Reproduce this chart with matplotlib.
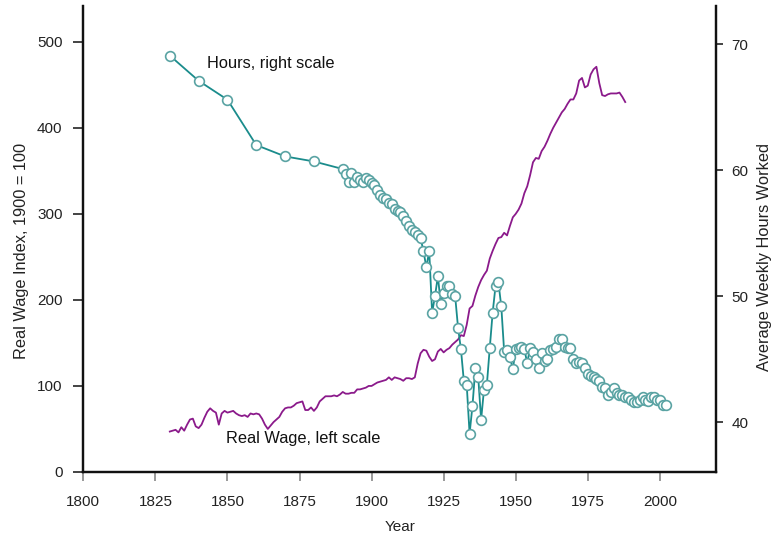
import numpy as np
import matplotlib
matplotlib.use("Agg")
import matplotlib.pyplot as plt

plt.rcParams['font.family'] = ['Liberation Sans', 'DejaVu Sans']

# real wage index (1900 = 100), annual 1830-1988
wage_years = np.arange(1830, 1989)
wage = [
    47, 48, 49, 46, 52, 48, 55, 61, 62, 53,
    51, 55, 63, 70, 74, 71, 69, 55, 68, 71,
    69, 70, 71, 68, 66, 65, 66, 64, 68, 67,
    68, 67, 62, 55, 50, 54, 58, 61, 64, 70,
    74, 75, 75, 77, 80, 81, 82, 72, 72, 75,
    71, 75, 82, 85, 88, 88, 88, 89, 88, 90,
    93, 91, 91, 92, 92, 96, 96, 97, 98, 100,
    100, 102, 104, 105, 106, 107, 110, 107, 110, 109,
    108, 106, 109, 109, 108, 110, 126, 138, 142, 141,
    134, 129, 131, 140, 143, 139, 142, 144, 148, 151,
    154, 159, 158, 171, 190, 193, 205, 215, 223, 229,
    234, 248, 257, 265, 272, 273, 278, 275, 286, 296,
    300, 305, 312, 324, 332, 345, 360, 365, 364, 373,
    378, 385, 393, 400, 406, 412, 418, 422, 428, 433,
    433, 440, 455, 458, 447, 449, 462, 468, 471, 452,
    438, 437, 439, 440, 440, 440, 441, 436, 430,
]

# average weekly hours worked
hours_years = [1830, 1840, 1850, 1860, 1870, 1880] + list(range(1890, 2003))
hours = [
    69.1, 67.1, 65.6, 62.0, 61.1, 60.7,
    # 1890-1899
    60.1, 59.7, 59.1, 59.8, 59.1, 59.5, 59.2, 59.1, 59.4, 59.2,
    # 1900-1909
    59.0, 58.8, 58.4, 58.0, 57.8, 57.7, 57.4, 57.3, 56.9, 56.8,
    # 1910-1919
    56.7, 56.4, 56.0, 55.6, 55.3, 55.1, 54.9, 54.6, 53.6, 52.3,
    # 1920-1929
    53.6, 48.7, 50.0, 51.6, 49.4, 50.3, 50.8, 50.8, 50.2, 50.0,
    # 1930-1939
    47.5, 45.8, 43.3, 43.0, 39.1, 41.3, 44.3, 43.6, 40.2, 42.6,
    # 1940-1949
    43.0, 45.9, 48.7, 50.8, 51.1, 49.2, 45.6, 45.7, 45.2, 44.2,
    # 1950-1959
    45.8, 45.9, 46.0, 45.8, 44.7, 45.9, 45.6, 45.0, 44.3, 45.5,
    # 1960-1969
    44.9, 45.0, 45.7, 45.8, 46.0, 46.6, 46.6, 46.0, 45.9, 45.9,
    # 1970-1979
    45.0, 44.7, 44.8, 44.7, 44.3, 43.8, 43.7, 43.6, 43.4, 43.3,
    # 1980-1989
    42.8, 42.7, 42.2, 42.4, 42.7, 42.3, 42.2, 42.2, 42.0, 42.0,
    # 1990-2002
    41.8, 41.6, 41.6, 41.8, 42.0, 41.8, 41.7, 42.0, 42.0, 41.8,
    41.8, 41.4, 41.4,
]

year_ticks = [1800, 1825, 1850, 1875, 1900, 1925, 1950, 1975, 2000]

fig = plt.figure(figsize=(7.73, 5.42), dpi=100)
ax = fig.add_axes([0.1078, 0.1292, 0.8185, 0.8603])
ax2 = ax.twinx()

ax.plot(wage_years, wage, color='#8b1a8b', lw=1.3)
ax2.plot(hours_years, hours, color='#1a8c8c', lw=1.3, marker='o', ms=7,
         mfc='white', mec='#5aa3a3', mew=1.2)

ax.set_xlim(1800, 2019.5)
ax.set_ylim(0, 542)
ax2.set_ylim(36.06, 73.06)

ax.set_xticks(year_ticks)
ax.set_yticks([0, 100, 200, 300, 400, 500])
ax2.set_yticks([40, 50, 60, 70])

for a in (ax, ax2):
    a.spines['top'].set_visible(False)
    for s in ('left', 'right', 'bottom'):
        a.spines[s].set_linewidth(1.6)
        a.spines[s].set_color('#111111')

ax.tick_params(axis='x', direction='out', length=6.5, width=1.2, color='#888888',
               labelsize=11, pad=10, labelcolor='#222222')
ax.tick_params(axis='y', direction='out', length=7.5, width=1.1, color='#111111',
               labelsize=11, pad=7.5, labelcolor='#222222')
ax2.tick_params(axis='y', direction='out', length=5, width=1.1, color='#111111',
                labelsize=11, pad=6, labelcolor='#222222')

ax.set_xlabel('Year', fontsize=11, color='#222222', labelpad=8)
ax.set_ylabel('Real Wage Index, 1900 = 100', fontsize=11.8, color='#222222', labelpad=6)
ax2.set_ylabel('Average Weekly Hours Worked', fontsize=11.8, color='#222222', labelpad=6.5)
# labels sit a little below the middle in the original
ax.yaxis.label.set_y(0.474)
ax2.yaxis.label.set_y(0.462)

ax.text(1843, 475, 'Hours, right scale', fontsize=11.8, color='#111111', va='center')
ax.text(1849.5, 39, 'Real Wage, left scale', fontsize=11.8, color='#111111', va='center')

fig.savefig('out.png', dpi=100)
